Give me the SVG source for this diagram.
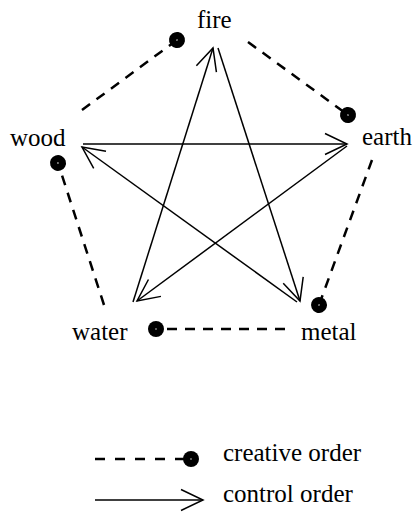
<svg xmlns="http://www.w3.org/2000/svg" width="416" height="512" viewBox="0 0 416 512">
<style>
  text { font-family: "Liberation Serif", "Times New Roman", serif; font-size: 25px; fill: #000; }
  .creative { fill: none; stroke: #000; stroke-width: 2.5; stroke-dasharray: 10 8; marker-end: url(#dot); }
  .control { fill: none; stroke: #000; stroke-width: 1.5; marker-end: url(#arrow); }
</style>
<defs>
  <marker id="dot" markerUnits="userSpaceOnUse" markerWidth="20" markerHeight="20" refX="10" refY="10" orient="auto" overflow="visible">
    <circle cx="10" cy="10" r="8" fill="#000"/>
    <circle cx="10" cy="10" r="0.7" fill="#fff"/>
  </marker>
  <marker id="arrow" markerUnits="userSpaceOnUse" markerWidth="30" markerHeight="30" refX="0" refY="0" orient="auto" overflow="visible">
    <path d="M-22,-10.5 L0,0 L-22,10.5" fill="none" stroke="#000" stroke-width="1.5"/>
  </marker>
</defs>
<g id="connectors">
  <path class="creative" d="M82,110 L177,40"/>
  <path class="creative" d="M248,42 L348,115"/>
  <path class="creative" d="M372,160 L319,305"/>
  <path class="creative" d="M285,329 L156,329"/>
  <path class="creative" d="M104,305 L58,163"/>
  <path class="control" d="M83,144 L347,144"/>
  <path class="control" d="M133,302 L213,48"/>
  <path class="control" d="M218,48 L300,301"/>
  <path class="control" d="M347,146 L137,301"/>
  <path class="control" d="M297,302 L82,147"/>
</g>
<g id="fire"><text x="197" y="28">fire</text></g>
<g id="wood"><text x="10" y="146">wood</text></g>
<g id="earth"><text x="362" y="145">earth</text></g>
<g id="water"><text x="72" y="340">water</text></g>
<g id="metal"><text x="301" y="340">metal</text></g>
<g id="legend">
  <path class="creative" style="stroke-dasharray:10 10" d="M95,459 L191,459"/>
  <text x="223" y="461">creative order</text>
  <path class="control" d="M95,500 L203,500"/>
  <text x="223" y="502">control order</text>
</g>
</svg>
